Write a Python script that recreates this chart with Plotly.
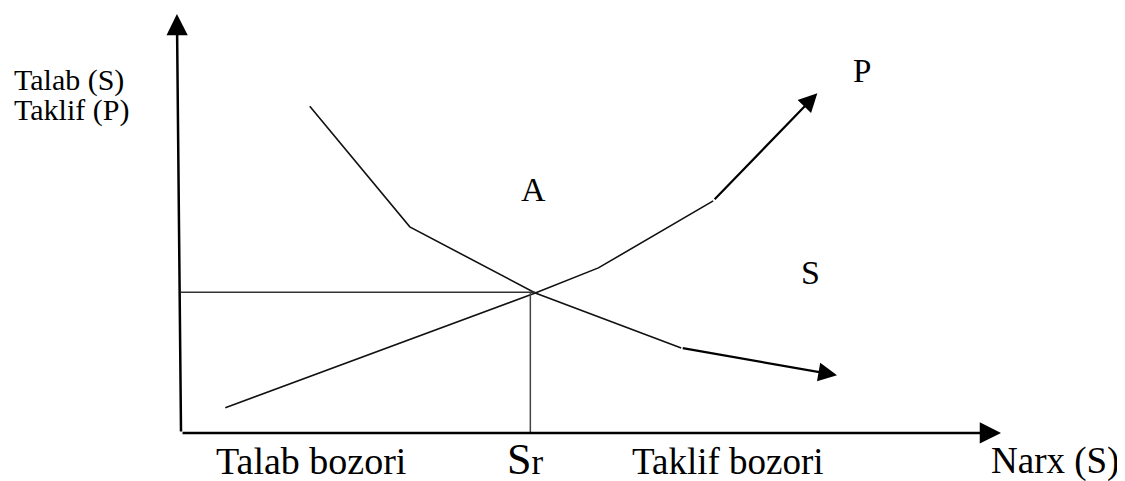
import plotly.graph_objects as go

# demand curve (S) and supply curve (P), in chart units
demand_x = [15.7, 27.9, 43.2, 61.0, 80.0]
demand_y = [78.0, 49.2, 33.4, 20.3, 13.8]
supply_x = [5.4, 43.2, 50.9, 64.9, 77.6]
supply_y = [6.0, 33.4, 39.4, 55.4, 81.1]

# equilibrium guide lines
eq_x = 42.6
eq_y = 33.6
eq_h_end = 43.2

FONT = "Liberation Serif, Times New Roman, serif"
INK = "#111111"

fig = go.Figure()

# curves without their last segment (drawn as arrows below)
fig.add_trace(go.Scatter(x=demand_x[:-1], y=demand_y[:-1], mode="lines",
                         line=dict(color=INK, width=1.6), hoverinfo="skip"))
fig.add_trace(go.Scatter(x=supply_x[:-1], y=supply_y[:-1], mode="lines",
                         line=dict(color=INK, width=1.6), hoverinfo="skip"))
fig.add_trace(go.Scatter(x=[0, eq_h_end], y=[eq_y, eq_y], mode="lines",
                         line=dict(color="#333333", width=1.5), hoverinfo="skip"))
fig.add_trace(go.Scatter(x=[eq_x, eq_x], y=[eq_y, 0], mode="lines",
                         line=dict(color="#444444", width=1.5), hoverinfo="skip"))


def arrow(x0, y0, x1, y1, width, size):
    fig.add_annotation(x=x1, y=y1, ax=x0, ay=y0, xref="x", yref="y",
                       axref="x", ayref="y", text="", showarrow=True,
                       arrowhead=2, arrowsize=size, arrowwidth=width,
                       arrowcolor="#000000", standoff=0, startstandoff=0)


# axes
arrow(0, 0, -0.5, 100, 2.5, 1.7)
arrow(0, 0, 100, 0, 2.5, 1.7)
# curve ends
arrow(demand_x[-2], demand_y[-2], demand_x[-1], demand_y[-1], 2.2, 1.7)
arrow(supply_x[-2], supply_y[-2], supply_x[-1], supply_y[-1], 2.2, 1.7)


def label(x, y, text, size, anchor="left"):
    fig.add_annotation(x=x, y=y, xref="x", yref="y", text=text, showarrow=False,
                       xanchor=anchor, yanchor="middle", borderpad=0,
                       font=dict(family=FONT, size=size, color="#000000"))


label(-20.5, 84.3, "Talab (S)", 30)
label(-20.5, 77.0, "Taklif (P)", 30)
label(81.8, 86.5, "P", 33)
label(43.0, 58.0, "A", 34, "center")
label(75.5, 38.2, "S", 34)
label(4.1, -6.7, "Talab bozori", 38)
label(39.6, -6.3, "<span style='font-size:44px'>S</span>r", 35)
label(54.9, -6.7, "Taklif bozori", 37)
label(98.6, -6.7, "Narx (S)", 37)

# the page adds an 8px body margin, so the figure is 8px smaller than the window
fig.update_layout(
    width=1117, height=473, autosize=False,
    margin=dict(l=0, r=0, t=0, b=0),
    paper_bgcolor="white", plot_bgcolor="white",
    showlegend=False,
    xaxis=dict(range=[-21.10, 115.12], visible=False, fixedrange=True),
    yaxis=dict(range=[-11.46, 101.43], visible=False, fixedrange=True),
)

fig.write_html("out.html")
